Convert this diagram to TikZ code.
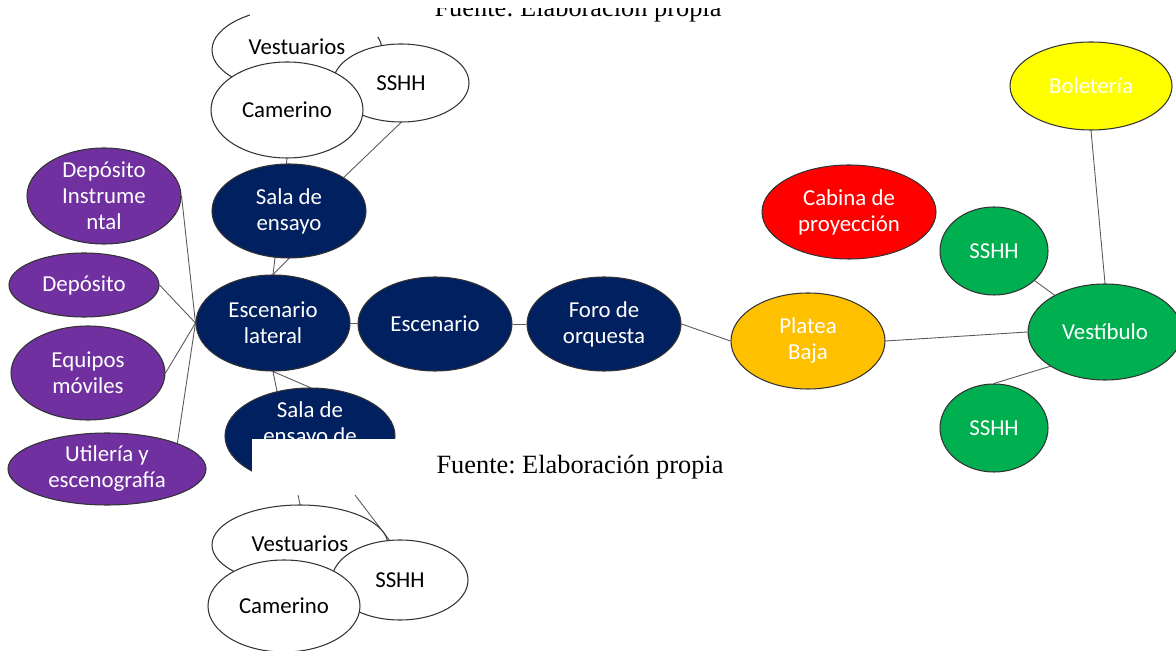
\documentclass[tikz,border=0pt]{standalone}
\usepackage{fontspec}
\setmainfont{Carlito}
\newfontfamily\fuentefont{Liberation Serif}
\usetikzlibrary{shapes, backgrounds}
\frenchspacing
\definecolor{navy}{HTML}{002060}
\definecolor{lila}{HTML}{7030A0}
\definecolor{rojo}{HTML}{FF0000}
\definecolor{ambar}{HTML}{FFC000}
\definecolor{verde}{HTML}{00B050}
\definecolor{amarillo}{HTML}{FFFF00}
\tikzset{
    every node/.style={inner sep=2pt},
    room/.style={ellipse, draw=black!80, line width=0.6pt, align=center, inner sep=0pt,
        font=\fontsize{13}{14.8}\selectfont, text=white
    },
    sz/.style 2 args={minimum width=#1*0.02cm, minimum height=#2*0.02cm},
    blanco/.style={room, fill=white, text=black},
    oscuro/.style={room, fill=navy},
    morado/.style={room, fill=lila},
    link/.style={line width=0.5pt, draw=black!65},
    fuente/.style={font=\fuentefont\fontsize{15}{18}\selectfont, anchor=base}
}

\begin{document}
\begin{tikzpicture}[x=0.02cm, y=-0.02cm]
    \useasboundingbox (0,0) rectangle (1176,651);
    \clip (0,0) rectangle (1176,651);

    % apoyo del escenario
    \node[morado, sz={154}{96}] (depinst) at (104,196) {Depósito\\Instrume\\ntal};
    \node[morado, sz={150}{64}] (deposito) at (84,285) {Depósito};
    \node[morado, sz={154}{94}] (equipos) at (88,373) {Equipos\\móviles};
    \node[morado, sz={198}{72}] (utileria) at (107,469) {Utilería y\\escenografía};

    % camerinos arriba
    \node[blanco, sz={170}{84}] (vest1) at (297,50) {\raisebox{0.6ex}{Vestuarios}};
    \node[blanco, sz={136}{78}] (sshh1) at (401,83) {SSHH};
    \node[blanco, sz={152}{96}] (cam1) at (287,110) {Camerino};

    % eje central
    \node[oscuro, sz={154}{94}] (ensayo) at (289,211) {Sala de\\ensayo};
    \node[oscuro, sz={154}{96}] (lateral) at (273,323) {Escenario\\lateral};
    \node[oscuro, sz={154}{94}] (escenario) at (435,324) {Escenario};
    \node[oscuro, sz={154}{94}] (foro) at (604,324) {Foro de\\orquesta};
    \node[oscuro, sz={170}{96}] (ensayo2) at (310,436) {Sala de\\ensayo de\\\mbox{}};

    % camerinos abajo
    \node[blanco, sz={176}{80}] (vest2) at (300,545) {\raisebox{0.2ex}{Vestuarios}};
    \node[blanco, sz={136}{80}] (sshh2) at (400,580) {SSHH};
    \node[blanco, sz={152}{92}] (cam2) at (284,606) {Camerino};

    % publico
    \node[room, fill=ambar, sz={154}{96}] (platea) at (808,341) {Platea\\Baja};
    \node[room, fill=rojo, sz={174}{94}] (cabina) at (849,212) {Cabina de\\proyección};
    \node[room, fill=verde, sz={108}{88}] (sshhA) at (994,251) {SSHH};
    \node[room, fill=verde, sz={154}{96}] (vestibulo) at (1105,332) {Vestíbulo};
    \node[room, fill=verde, sz={108}{88}] (sshhB) at (994,428) {SSHH};
    \node[room, fill=amarillo, sz={162}{88}] (boleteria) at (1091,86) {Boletería};

    \begin{scope}[on background layer]
        \draw[link] (lateral.west) -- (depinst.east);
        \draw[link] (lateral.west) -- (deposito.east);
        \draw[link] (lateral.west) -- (equipos.east);
        \draw[link] (lateral.west) -- (utileria.north east);
        \draw[link] (lateral.north) -- (ensayo.south);
        \draw[link] (lateral.north) -- (cam1.south);
        \draw[link] (ensayo.north east) -- (sshh1.south);
        \draw[link] (lateral.south) -- (ensayo2.north);
        \draw[link] (lateral.south) -- (vest2.north);
        \draw[link] (ensayo2) -- (sshh2.105);
        \draw[link] (lateral) -- (escenario);
        \draw[link] (escenario) -- (foro);
        \draw[link] (foro.east) -- (platea.west);
        \draw[link] (platea.east) -- (vestibulo.west);
        \draw[link] (sshhA) -- (vestibulo);
        \draw[link] (sshhB.north) -- (vestibulo.south west);
        \draw[link] (boleteria.south) -- (vestibulo.north);
    \end{scope}

    % recortes de la pagina
    \fill[white] (250,-5) rectangle (740,37);
    \node[fuente] (fuente1) at (578,17) {Fuente: Elaboración propia};
    \fill[white] (420,-5) rectangle (740,8);
    \fill[white] (252,439) rectangle (740,495);
    \node[fuente] (fuente2) at (580,474) {Fuente: Elaboración propia};
\end{tikzpicture}
\end{document}
